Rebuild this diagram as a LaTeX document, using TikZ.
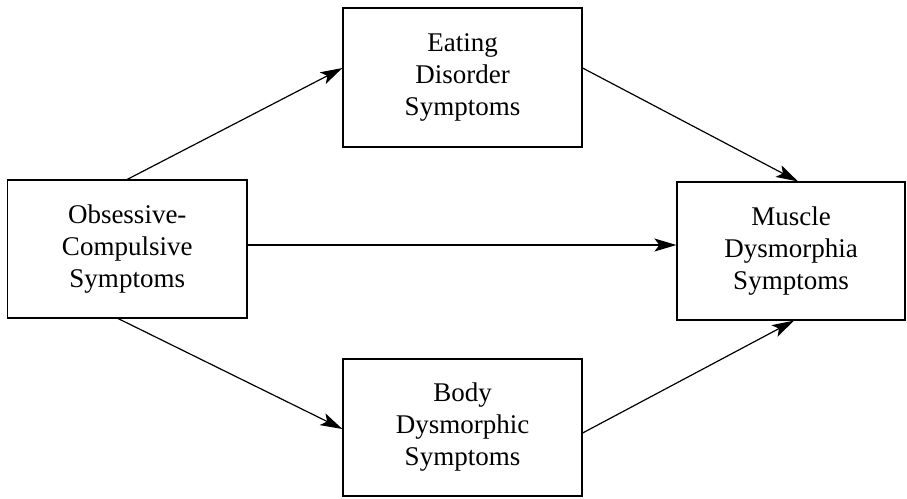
\documentclass[tikz,border=0pt]{standalone}
\usepackage{fontspec}
\setmainfont{Liberation Serif}
\usetikzlibrary{arrows.meta}
\begin{document}
\begin{tikzpicture}[x=1pt,y=-1pt,
  box/.style={draw, line width=1.2pt, inner sep=0pt, align=center,
    font=\fontsize{27}{32}\selectfont},
  arr/.style={line width=1.2pt, -{Stealth[length=22pt,width=13pt,inset=5pt]}}]
\useasboundingbox (0,0) rectangle (907,498);
\node[box, minimum width=239.5pt, minimum height=138pt] (L) at (127.25,249) {Obsessive-\\Compulsive\\Symptoms};
\node[box, minimum width=239pt, minimum height=139pt] (T) at (462.5,77.5) {Eating\\Disorder\\Symptoms};
\node[box, minimum width=239pt, minimum height=137pt] (B) at (462.5,427.5) {Body\\Dysmorphic\\Symptoms};
\node[box, minimum width=228pt, minimum height=138pt] (R) at (791,251) {Muscle\\Dysmorphia\\Symptoms};
\draw[arr] (L.north) -- ([yshift=9.5pt]T.west);
\draw[arr] ([yshift=9.5pt]T.east) -- ([xshift=7pt]R.north);
\draw[arr] ([yshift=4pt]L.east) -- ([yshift=4pt]L.east -| R.west);
\draw[arr] ([xshift=-9pt]L.south) -- ([yshift=-1.5pt]B.west);
\draw[arr] ([yshift=-5.5pt]B.east) -- ([xshift=3pt]R.south);
\end{tikzpicture}
\end{document}
